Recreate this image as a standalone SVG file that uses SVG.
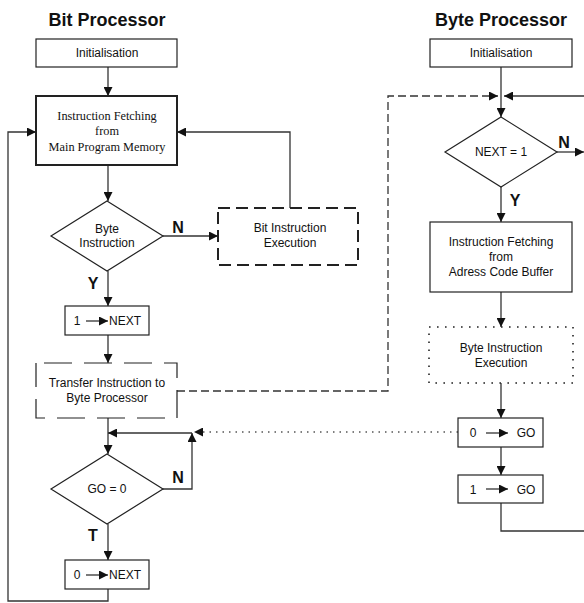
<svg xmlns="http://www.w3.org/2000/svg" width="584" height="603" viewBox="0 0 584 603">
<style>
.box{fill:#fff;stroke:#222;stroke-width:1.2}
.thick{fill:#fff;stroke:#222;stroke-width:2}
.dash2{fill:#fff;stroke:#222;stroke-width:2;stroke-dasharray:12 6}
.dashl{fill:#fff;stroke:#222;stroke-width:1.2;stroke-dasharray:28 12}
.dot{fill:#fff;stroke:#222;stroke-width:1.6;stroke-dasharray:1.6 6.4}
.ln{fill:none;stroke:#333;stroke-width:1.3}
.dl{fill:none;stroke:#333;stroke-width:1.3;stroke-dasharray:8 4}
.dt{fill:none;stroke:#555;stroke-width:1.3;stroke-dasharray:1.5 5}
.t{font-family:"Liberation Sans",Arial,sans-serif;font-size:12px;fill:#111;text-anchor:middle}
.s{font-family:"Liberation Serif","Times New Roman",serif;font-size:12.3px;fill:#111;text-anchor:middle}
.h{font-family:"Liberation Sans",Arial,sans-serif;font-size:18px;font-weight:bold;fill:#111;text-anchor:middle}
.l{font-family:"Liberation Sans",Arial,sans-serif;font-size:16px;font-weight:bold;fill:#111;text-anchor:middle}
</style>
<defs>
<marker id="a" viewBox="0 0 10 10" refX="10" refY="5" markerWidth="9" markerHeight="9" markerUnits="userSpaceOnUse" orient="auto"><path d="M0,0 L10,5 L0,10 z" fill="#111"/></marker>
<marker id="b" viewBox="0 0 10 10" refX="10" refY="5" markerWidth="9" markerHeight="9" markerUnits="userSpaceOnUse" orient="auto"><path d="M0,0 L10,5 L0,10 z" fill="#111"/></marker>
</defs>
<text class="h" x="107" y="26">Bit Processor</text>
<text class="h" x="501" y="26">Byte Processor</text>
<g id="connectors">
<path class="ln" d="M108,67 V96" marker-end="url(#a)"/>
<path class="ln" d="M108,165 V201" marker-end="url(#a)"/>
<path class="ln" d="M163,236 H218" marker-end="url(#a)"/>
<path class="ln" d="M290,208 V132 H177" marker-end="url(#a)"/>
<path class="ln" d="M108,271 V306" marker-end="url(#a)"/>
<path class="ln" d="M108,335 V363" marker-end="url(#a)"/>
<path class="ln" d="M108,418 V454" marker-end="url(#a)"/>
<path class="ln" d="M192,433 H108" marker-end="url(#a)"/>
<path class="ln" d="M163,489 H192 V433" marker-end="url(#a)"/>
<path class="ln" d="M108,524 V560" marker-end="url(#a)"/>
<path class="ln" d="M108,589 V601 H8 V132 H36" marker-end="url(#a)"/>
<path class="dl" d="M177,391 H388 V96 H498" marker-end="url(#a)"/>
<path class="ln" d="M584,96 H504" marker-end="url(#a)"/>
<path class="ln" d="M501,67 V117" marker-end="url(#a)"/>
<path class="ln" d="M557,152 H584" marker-end="url(#a)"/>
<path class="ln" d="M501,187 V222" marker-end="url(#a)"/>
<path class="ln" d="M501,292 V327" marker-end="url(#a)"/>
<path class="ln" d="M501,383 V418" marker-end="url(#a)"/>
<path class="ln" d="M501,447 V475" marker-end="url(#a)"/>
<path class="ln" d="M501,503 V531 H584"/>
<path class="dt" d="M458,432 H194" marker-end="url(#a)"/>
</g>
<g id="bit-init"><rect class="box" x="36" y="39" width="141" height="28"/><text class="t" x="107" y="57">Initialisation</text></g>
<g id="bit-fetch"><rect class="thick" x="36" y="96" width="141" height="69"/>
<text class="s" x="107" y="120">Instruction Fetching</text><text class="s" x="107" y="135">from</text><text class="s" x="107" y="151">Main Program Memory</text></g>
<g id="byte-instr-dec"><path class="box" d="M107,201 L163,236 L107,271 L51,236 z"/>
<text class="t" x="107" y="233">Byte</text><text class="t" x="107" y="247">Instruction</text></g>
<text class="l" x="178" y="233">N</text>
<text class="l" x="93" y="289">Y</text>
<g id="bit-exec"><rect class="dash2" x="218" y="208" width="140" height="57"/>
<text class="t" x="290" y="232">Bit Instruction</text><text class="t" x="290" y="247">Execution</text></g>
<g id="set-next1"><rect class="box" x="65" y="306" width="84" height="29"/>
<text class="t" x="77" y="325">1</text><path class="ln" d="M86,321 H108" marker-end="url(#b)"/><text class="t" x="125" y="325">NEXT</text></g>
<g id="transfer"><rect class="dashl" x="36" y="363" width="141" height="55" stroke-dashoffset="-8"/>
<text class="t" x="107" y="387">Transfer Instruction to</text><text class="t" x="107" y="402">Byte Processor</text></g>
<g id="go-dec"><path class="box" d="M107,454 L163,489 L107,524 L51,489 z"/><text class="t" x="107" y="493">GO = 0</text></g>
<text class="l" x="178" y="483">N</text>
<text class="l" x="93" y="541">T</text>
<g id="set-next0"><rect class="box" x="65" y="560" width="84" height="29"/>
<text class="t" x="77" y="579">0</text><path class="ln" d="M86,575 H108" marker-end="url(#b)"/><text class="t" x="125" y="579">NEXT</text></g>
<g id="byte-init"><rect class="box" x="430" y="39" width="142" height="28"/><text class="t" x="501" y="57">Initialisation</text></g>
<g id="next-dec"><path class="box" d="M501,117 L557,152 L501,187 L445,152 z"/><text class="t" x="501" y="156">NEXT = 1</text></g>
<text class="l" x="564" y="148">N</text>
<text class="l" x="515" y="206">Y</text>
<g id="byte-fetch"><rect class="box" x="430" y="222" width="142" height="70"/>
<text class="t" x="501" y="246">Instruction Fetching</text><text class="t" x="501" y="261">from</text><text class="t" x="501" y="276">Adress Code Buffer</text></g>
<g id="byte-exec"><rect class="dot" x="429" y="327" width="144" height="56"/>
<text class="t" x="501" y="352">Byte Instruction</text><text class="t" x="501" y="367">Execution</text></g>
<g id="set-go0"><rect class="box" x="458" y="418" width="85" height="29"/>
<text class="t" x="473" y="437">0</text><path class="ln" d="M486,433 H508" marker-end="url(#b)"/><text class="t" x="526" y="437">GO</text></g>
<g id="set-go1"><rect class="box" x="458" y="475" width="85" height="28"/>
<text class="t" x="473" y="494">1</text><path class="ln" d="M486,489 H508" marker-end="url(#b)"/><text class="t" x="526" y="494">GO</text></g>
</svg>
